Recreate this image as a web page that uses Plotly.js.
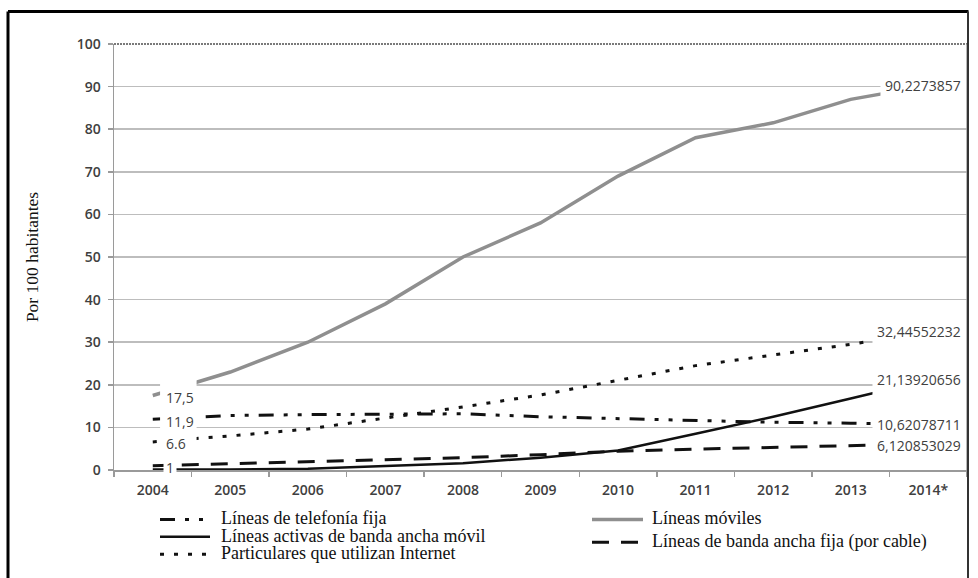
<!DOCTYPE html>
<html><head><meta charset="utf-8">
<script src="https://cdn.plot.ly/plotly-3.0.1.min.js"></script>
<style>html,body{margin:0;padding:0;background:#fff}#chart{width:978px;height:578px}</style>
</head><body><div id="chart"></div>
<script>
// ---- data ----
const years = ['2004','2005','2006','2007','2008','2009','2010','2011','2012','2013','2014*'];
const telefoniaFija   = [11.9, 12.8, 13.0, 13.1, 13.2, 12.5, 12.1, 11.6, 11.2, 11.0, 10.62078711];
const bandaAnchaMovil = [0.1, 0.1, 0.3, 0.9, 1.6, 2.9, 4.6, 8.5, 12.5, 16.8, 21.13920656];
const internet        = [6.6, 8.0, 9.6, 12.2, 14.8, 17.6, 21.0, 24.5, 27.0, 29.5, 32.44552232];
const moviles         = [17.5, 23.0, 30.0, 39.0, 50.0, 58.0, 69.0, 78.0, 81.5, 87.0, 90.2273857];
const bandaAnchaFija  = [1, 1.5, 2.0, 2.4, 2.9, 3.6, 4.4, 4.9, 5.3, 5.7, 6.120853029];

const seriesNames = ['Líneas de telefonía fija','Líneas activas de banda ancha móvil','Particulares que utilizan Internet','Líneas móviles','Líneas de banda ancha fija (por cable)'];
const leftLabels  = ['17,5','11,9','6.6','1'];
const leftValues  = [moviles[0], telefoniaFija[0], internet[0], bandaAnchaFija[0]];
const rightLabels = ['90,2273857','32,44552232','21,13920656','10,62078711','6,120853029'];
const rightValues = [moviles[10], internet[10], bandaAnchaMovil[10], telefoniaFija[10], bandaAnchaFija[10]];

// ---- styles ----
const DASHDOT = '15px,10px,4px,10px,4px,10px';
const DOT = '4px,10px';
const DASH = '17px,12px';
const styles = [
  {color:'#111', width:3, dash:DASHDOT},
  {color:'#111', width:2.5, dash:'solid'},
  {color:'#111', width:3, dash:DOT},
  {color:'#8f8f8f', width:3.5, dash:'solid'},
  {color:'#111', width:3, dash:DASH}
];
const allData = [telefoniaFija, bandaAnchaMovil, internet, moviles, bandaAnchaFija];

const traces = allData.map((d,i)=>({
  x: years, y: d, type:'scatter', mode:'lines', name: seriesNames[i],
  line: {color: styles[i].color, width: styles[i].width, dash: styles[i].dash},
  showlegend:false, hoverinfo:'skip'
}));

// pixel helpers for paper coords
const L=114, R=967, T=43.5, B=470.5;
const px = x => (x-L)/(R-L);
const py = y => (B-y)/(B-T);
const firstIdx = 0, lastIdx = years.length-1;

const shapes = [
  // white boxes behind the data labels
  {type:'rect', layer:'above', xref:'x', yref:'y', x0:0.094, x1:0.565, y0:2.5, y1:21.3, fillcolor:'#fff', line:{width:0}},
  {type:'rect', layer:'above', xref:'x', yref:'y', x0:9.281, x1:10.5, y0:3.3, y1:34.7, fillcolor:'#fff', line:{width:0}},
  {type:'rect', layer:'above', xref:'x', yref:'y', x0:9.384, x1:10.5, y0:87.3, y1:93.5, fillcolor:'#fff', line:{width:0}},
  // plot frame (top dotted, right)
  {type:'line', layer:'above', xref:'paper', yref:'paper', x0:0, x1:1, y0:1, y1:1, line:{color:'#7a7a7a', width:2, dash:'2px,1px'}},
  {type:'line', layer:'above', xref:'paper', yref:'paper', x0:1, x1:1, y0:0, y1:1, line:{color:'#a0a0a0', width:1.5}},
  // outer black frame
  {type:'line', layer:'above', xref:'paper', yref:'paper', x0:px(8), x1:px(968.5), y0:py(11), y1:py(11), line:{color:'#000', width:3}},
  {type:'line', layer:'above', xref:'paper', yref:'paper', x0:px(8), x1:px(8), y0:py(11), y1:py(600), line:{color:'#000', width:3}},
  {type:'line', layer:'above', xref:'paper', yref:'paper', x0:px(968), x1:px(968), y0:py(11), y1:py(600), line:{color:'#333', width:2}}
];

// legend (manual, two columns)
const legRowsLeft = [519, 536.5, 554];
const legRowsRight = [519, 542];
const legItems = [
  {s:0, col:0, row:0}, {s:1, col:0, row:1}, {s:2, col:0, row:2},
  {s:3, col:1, row:0}, {s:4, col:1, row:1}
];
const annotations = [];
legItems.forEach(it=>{
  const k0 = it.col===0 ? 160 : 592, k1 = it.col===0 ? 210 : 643, tx = it.col===0 ? 219 : 650;
  const yy = it.col===0 ? legRowsLeft[it.row] : legRowsRight[it.row];
  const st = styles[it.s];
  shapes.push({type:'line', xref:'paper', yref:'paper', x0:px(k0), x1:px(k1), y0:py(yy+1), y1:py(yy+1),
    line:{color:st.color, width:st.width, dash:st.dash}});
  annotations.push({xref:'paper', yref:'paper', x:px(tx), y:py(yy), xanchor:'left', yanchor:'middle',
    text: seriesNames[it.s], showarrow:false, font:{family:'Liberation Serif, Times New Roman, serif', size:18, color:'#111'}});
});

const labelFont = {family:'Open Sans, sans-serif', size:14, color:'#404040'};
leftLabels.forEach((t,i)=>{
  annotations.push({xref:'x', yref:'y', x:firstIdx, y:leftValues[i], xanchor:'left', yanchor:'middle', xshift:10, yshift:-2,
    text:t, showarrow:false, font:labelFont, bgcolor: i===3 ? '#fff' : 'rgba(0,0,0,0)', borderpad:2});
});
rightLabels.forEach((t,i)=>{
  annotations.push({xref:'x', yref:'y', x:lastIdx, y:rightValues[i], xanchor:'right', yanchor:'middle', xshift:35, yshift: i===4 ? -2 : 0,
    text:t, showarrow:false, font:labelFont});
});

const tickFont = {family:'Open Sans, sans-serif', size:14, color:'#404040', weight:600};
const layout = {
  width:978, height:578,
  margin:{l:L, r:978-R, t:T, b:578-B},
  paper_bgcolor:'#fff', plot_bgcolor:'#fff',
  xaxis:{type:'category', categoryorder:'array', categoryarray:years, range:[-0.5,10.5],
    showgrid:false, zeroline:false, showline:true, linecolor:'#9a9a9a', linewidth:1.5,
    ticks:'outside', tickson:'boundaries', ticklen:5, tickcolor:'#9a9a9a', tickwidth:1.5,
    tickfont:tickFont, ticklabelstandoff:7, fixedrange:true},
  yaxis:{range:[0,100], tickvals:[0,10,20,30,40,50,60,70,80,90,100], showgrid:true, gridcolor:'#bdbdbd', gridwidth:1.5,
    zeroline:false, showline:true, linecolor:'#9a9a9a', linewidth:1.5,
    ticks:'outside', ticklen:5, tickcolor:'#9a9a9a', tickwidth:1.5, tickfont:tickFont, ticklabelstandoff:4,
    title:{text:'Por 100 habitantes', standoff:33, font:{family:'Liberation Serif, Times New Roman, serif', size:17.5, color:'#111'}},
    fixedrange:true},
  shapes, annotations, showlegend:false
};
Plotly.newPlot('chart', traces, layout, {displayModeBar:false, staticPlot:true});
</script>
</body></html>
